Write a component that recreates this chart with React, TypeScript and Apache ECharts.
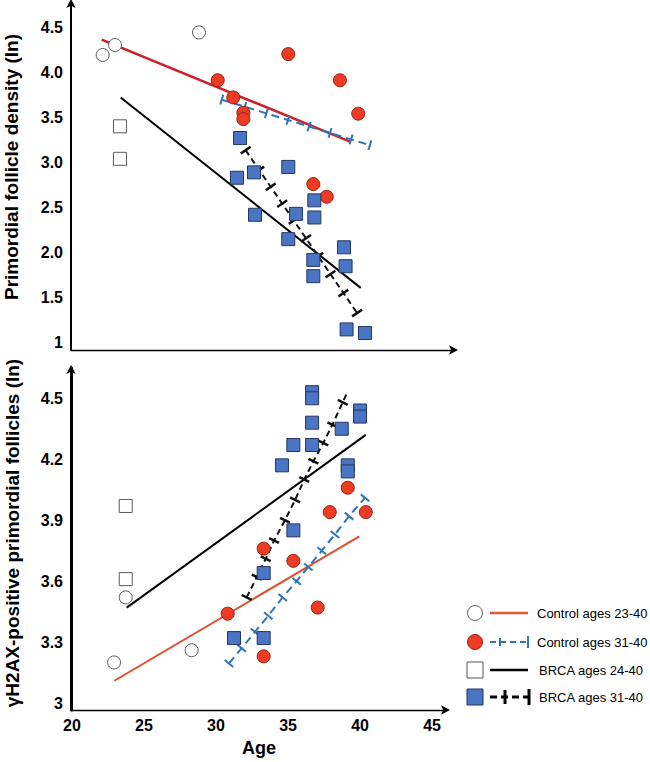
import React, { useEffect, useRef } from 'react';
import * as echarts from 'echarts';

// ---------- tick labels ----------
const xTickValues = [20, 25, 30, 35, 40, 45];
const topYTickValues = [1, 1.5, 2, 2.5, 3, 3.5, 4, 4.5];
const topYTickLabels = ['1', '1.5', '2.0', '2.5', '3.0', '3.5', '4.0', '4.5'];
const botYTickValues = [3, 3.3, 3.6, 3.9, 4.2, 4.5];
const botYTickLabels = ['3', '3.3', '3.6', '3.9', '4.2', '4.5'];

const topYTitle = 'Primordial follicle density (ln)';
const botYTitle = 'γH2AX-positive primordial follicles (ln)';
const xTitle = 'Age';
const legendLabels = ['Control ages 23-40', 'Control ages 31-40', 'BRCA ages 24-40', 'BRCA ages 31-40'];

// ---------- top panel data: [age, ln density] ----------
const topControlOpen = [[22.13, 4.19], [22.99, 4.30], [28.82, 4.44]];
const topControlFilled = [[30.12, 3.91], [31.2, 3.72], [31.9, 3.55], [31.9, 3.48], [35.02, 4.20], [38.61, 3.91], [39.88, 3.54], [36.76, 2.76], [37.69, 2.62]];
const topBrcaOpen = [[23.33, 3.40], [23.33, 3.04]];
const topBrcaFilled = [[31.67, 3.27], [31.46, 2.83], [32.64, 2.89], [32.71, 2.42], [35.02, 2.95], [35.56, 2.43], [35.02, 2.15], [36.83, 2.58], [36.83, 2.39], [36.76, 1.92], [36.76, 1.74], [38.89, 2.06], [39.0, 1.85], [39.07, 1.15], [40.35, 1.11]];
const topControlAllFit = [[22.06, 4.36], [39.31, 3.23]];
const topControl31Fit = [[30.4, 3.695], [32.0, 3.617], [33.5, 3.543], [35.0, 3.47], [36.46, 3.398], [37.92, 3.327], [39.38, 3.255], [40.69, 3.191]];
const topBrcaAllFit = [[23.38, 3.72], [40.05, 1.61]];
const topBrca31Fit = [[32.06, 3.135], [33.0, 2.916], [33.8, 2.73], [34.6, 2.544], [35.4, 2.357], [36.25, 2.159], [37.1, 1.961], [37.95, 1.763], [38.85, 1.553], [39.8, 1.332]];

// ---------- bottom panel data: [age, ln γH2AX+] ----------
const botControlOpen = [[22.92, 3.20], [23.73, 3.52], [28.31, 3.26]];
const botControlFilled = [[30.81, 3.44], [33.31, 3.76], [33.31, 3.23], [35.37, 3.70], [37.06, 3.47], [37.9, 3.94], [39.15, 4.06], [40.40, 3.94]];
const botBrcaOpen = [[23.73, 3.97], [23.73, 3.61]];
const botBrcaFilled = [[31.25, 3.32], [33.31, 3.32], [33.31, 3.64], [35.37, 3.85], [34.58, 4.17], [35.37, 4.27], [36.67, 4.27], [36.67, 4.38], [36.67, 4.53], [36.67, 4.50], [38.73, 4.35], [40.0, 4.44], [40.0, 4.41], [39.15, 4.17], [39.15, 4.14]];
const botControlAllFit = [[22.94, 3.11], [39.95, 3.82]];
const botControl31Fit = [[30.9, 3.195], [31.78, 3.27], [32.71, 3.35], [33.63, 3.43], [34.63, 3.52], [35.6, 3.60], [36.41, 3.67], [37.34, 3.75], [38.26, 3.83], [39.24, 3.92], [40.35, 4.01]];
const botBrcaAllFit = [[23.8, 3.47], [40.4, 4.32]];
const botBrca31Fit = [[32.13, 3.52], [32.83, 3.62], [33.45, 3.71], [34.03, 3.80], [34.79, 3.90], [35.49, 4.00], [36.13, 4.10], [36.76, 4.19], [37.45, 4.28], [38.08, 4.37], [38.8, 4.48], [39.05, 4.52]];

// ---------- layout / style ----------
const FONT = '"Liberation Sans", Arial, Helvetica, sans-serif';
const G0 = { left: 71, top: 2, width: 384, height: 348 };
const G1 = { left: 71, top: 368, width: 376, height: 342 };
const X0 = [19.93, 46.6];
const Y0 = [0.922, 4.777];
const X1 = [19.93, 46.04];
const Y1 = [2.966, 4.649];

const RED_FILL = '#ee3b24';
const RED_EDGE = '#9c2010';
const BLUE_FILL = '#4a74c4';
const BLUE_EDGE = '#25395f';
const DASH_BLUE = '#2e75b6';
const TOP_RED = '#cc1f2a';
const BOT_RED = '#e0502e';

function angleOf(line: number[][], g: any, xr: number[], yr: number[]) {
  const a = line[0];
  const b = line[line.length - 1];
  const dx = ((b[0] - a[0]) * g.width) / (xr[1] - xr[0]);
  const dy = ((b[1] - a[1]) * g.height) / (yr[1] - yr[0]);
  return (Math.atan2(dy, dx) * 180) / Math.PI;
}

function labelFor(values: number[], labels: string[]) {
  return (v: number) => {
    let best = 0;
    for (let i = 0; i < values.length; i++) {
      if (Math.abs(values[i] - v) < Math.abs(values[best] - v)) best = i;
    }
    return Math.abs(values[best] - v) < 1e-6 ? labels[best] : '';
  };
}

function scatter(name: string, data: number[][], idx: number, kind: 'circle' | 'rect', filled: boolean) {
  const fill = filled ? (kind === 'circle' ? RED_FILL : BLUE_FILL) : '#ffffff';
  const edge = filled ? (kind === 'circle' ? RED_EDGE : BLUE_EDGE) : '#5a5a5a';
  return {
    type: 'scatter',
    name,
    xAxisIndex: idx,
    yAxisIndex: idx,
    data,
    symbol: kind,
    symbolSize: 13,
    itemStyle: { color: fill, borderColor: edge, borderWidth: 1, opacity: 1 },
    z: 5,
  };
}

function solidLine(name: string, data: number[][], idx: number, color: string, width: number) {
  return {
    type: 'line',
    name,
    xAxisIndex: idx,
    yAxisIndex: idx,
    data,
    showSymbol: false,
    symbol: 'none',
    lineStyle: { color, width, type: 'solid' },
    z: 3,
  };
}

function tickedLine(
  name: string,
  data: number[][],
  idx: number,
  color: string,
  width: number,
  dash: number[],
  tick: number[],
  rot: number,
  noTickLast = false
) {
  return {
    type: 'line',
    name,
    xAxisIndex: idx,
    yAxisIndex: idx,
    data: data.map((d, i) =>
      noTickLast && i === data.length - 1 ? { value: d, symbol: 'none' } : { value: d }
    ),
    showSymbol: true,
    showAllSymbol: true,
    symbol: 'rect',
    symbolSize: tick,
    symbolRotate: rot,
    itemStyle: { color, borderWidth: 0 },
    lineStyle: { color, width, type: dash },
    z: 4,
  };
}

function yAxisCfg(idx: number, range: number[], values: number[], labels: string[], lw: number) {
  return {
    type: 'value',
    gridIndex: idx,
    min: range[0],
    max: range[1],
    splitLine: { show: false },
    axisTick: { show: false },
    axisLine: {
      show: true,
      onZero: false,
      symbol: ['none', 'arrow'],
      symbolSize: [7, 9],
      symbolOffset: [0, 3],
      lineStyle: { color: '#000', width: lw },
    },
    axisLabel: {
      customValues: values,
      formatter: labelFor(values, labels),
      fontSize: 16,
      fontWeight: 'bold',
      fontFamily: FONT,
      color: '#000',
      margin: 8,
    },
  };
}

function xAxisCfg(idx: number, range: number[], showLabels: boolean) {
  return {
    type: 'value',
    gridIndex: idx,
    min: range[0],
    max: range[1],
    splitLine: { show: false },
    axisTick: { show: false },
    axisLine: {
      show: true,
      onZero: false,
      symbol: ['none', 'arrow'],
      symbolSize: [7, 9],
      symbolOffset: [0, 3],
      lineStyle: { color: '#000', width: 1.3 },
    },
    axisLabel: {
      show: showLabels,
      customValues: xTickValues,
      formatter: labelFor(xTickValues, xTickValues.map(String)),
      fontSize: 16,
      fontWeight: 'bold',
      fontFamily: FONT,
      color: '#000',
      margin: 7,
    },
    name: showLabels ? xTitle : '',
    nameLocation: 'middle',
    nameGap: 29,
    nameTextStyle: { fontSize: 18, fontWeight: 'bold', fontFamily: FONT, color: '#000' },
  };
}

function legendGraphics() {
  const rows = [613, 642, 670, 697];
  const els: any[] = [];
  const cx = 475;
  const lx0 = 490;
  const lx1 = 528;
  // row 1
  els.push({ type: 'circle', shape: { cx, cy: rows[0], r: 7.5 }, style: { fill: '#fff', stroke: '#666', lineWidth: 1 } });
  els.push({ type: 'line', shape: { x1: lx0, y1: rows[0], x2: lx1, y2: rows[0] }, style: { stroke: '#e05a3a', lineWidth: 2.5 } });
  // row 2
  els.push({ type: 'circle', shape: { cx, cy: rows[1], r: 7.5 }, style: { fill: RED_FILL, stroke: RED_EDGE, lineWidth: 1 } });
  els.push({ type: 'line', shape: { x1: lx0, y1: rows[1], x2: lx1, y2: rows[1] }, style: { stroke: DASH_BLUE, lineWidth: 2, lineDash: [6, 4] } });
  els.push({ type: 'line', shape: { x1: 500, y1: rows[1] - 4, x2: 500, y2: rows[1] + 4 }, style: { stroke: DASH_BLUE, lineWidth: 2 } });
  els.push({ type: 'line', shape: { x1: 528, y1: rows[1] - 6, x2: 528, y2: rows[1] + 6 }, style: { stroke: DASH_BLUE, lineWidth: 2 } });
  // row 3
  els.push({ type: 'rect', shape: { x: cx - 8, y: rows[2] - 8, width: 16, height: 16 }, style: { fill: '#fff', stroke: '#555', lineWidth: 1 } });
  els.push({ type: 'line', shape: { x1: lx0, y1: rows[2], x2: lx1, y2: rows[2] }, style: { stroke: '#000', lineWidth: 2.5 } });
  // row 4
  els.push({ type: 'rect', shape: { x: cx - 8, y: rows[3] - 8, width: 16, height: 16 }, style: { fill: BLUE_FILL, stroke: BLUE_EDGE, lineWidth: 1 } });
  els.push({ type: 'line', shape: { x1: lx0, y1: rows[3], x2: lx1, y2: rows[3] }, style: { stroke: '#000', lineWidth: 3, lineDash: [7, 4] } });
  els.push({ type: 'line', shape: { x1: 505, y1: rows[3] - 7, x2: 505, y2: rows[3] + 7 }, style: { stroke: '#000', lineWidth: 3 } });
  els.push({ type: 'line', shape: { x1: 529, y1: rows[3] - 8, x2: 529, y2: rows[3] + 8 }, style: { stroke: '#000', lineWidth: 3 } });
  const tx = [537, 537, 539, 539];
  legendLabels.forEach((t, i) => {
    els.push({
      type: 'text',
      x: tx[i],
      y: rows[i],
      style: {
        text: t,
        font: `13px ${FONT}`,
        fill: '#000',
        textAlign: 'left',
        textVerticalAlign: 'middle',
        align: 'left',
        verticalAlign: 'middle',
      },
    });
  });
  return els;
}

function titleGraphic(text: string, x: number, y: number) {
  return {
    type: 'text',
    x,
    y,
    rotation: Math.PI / 2,
    style: {
      text,
      font: `bold 19px ${FONT}`,
      fill: '#000',
      textAlign: 'center',
      textVerticalAlign: 'middle',
      align: 'center',
      verticalAlign: 'middle',
    },
  };
}

export default function App() {
  const ref = useRef<HTMLDivElement>(null);
  useEffect(() => {
    if (!ref.current) return;
    const chart = echarts.init(ref.current, null, { renderer: 'svg' });
    const aTopC31 = angleOf(topControl31Fit, G0, X0, Y0);
    const aTopB31 = angleOf(topBrca31Fit, G0, X0, Y0);
    const aBotC31 = angleOf(botControl31Fit, G1, X1, Y1);
    const aBotB31 = angleOf(botBrca31Fit, G1, X1, Y1);
    chart.setOption({
      animation: false,
      backgroundColor: '#ffffff',
      textStyle: { fontFamily: FONT },
      grid: [
        { ...G0, containLabel: false },
        { ...G1, containLabel: false },
      ],
      xAxis: [xAxisCfg(0, X0, false), xAxisCfg(1, X1, true)],
      yAxis: [
        yAxisCfg(0, Y0, topYTickValues, topYTickLabels, 2),
        yAxisCfg(1, Y1, botYTickValues, botYTickLabels, 3),
      ],
      series: [
        solidLine(legendLabels[0], topControlAllFit, 0, TOP_RED, 2.5),
        tickedLine(legendLabels[1], topControl31Fit, 0, DASH_BLUE, 2, [8, 5], [2, 10], aTopC31),
        solidLine(legendLabels[2], topBrcaAllFit, 0, '#000', 2),
        tickedLine(legendLabels[3], topBrca31Fit, 0, '#111', 2, [6, 4], [2.5, 12], aTopB31),
        scatter(legendLabels[0], topControlOpen, 0, 'circle', false),
        scatter(legendLabels[1], topControlFilled, 0, 'circle', true),
        scatter(legendLabels[2], topBrcaOpen, 0, 'rect', false),
        scatter(legendLabels[3], topBrcaFilled, 0, 'rect', true),

        solidLine(legendLabels[0], botControlAllFit, 1, BOT_RED, 2),
        tickedLine(legendLabels[1], botControl31Fit, 1, DASH_BLUE, 2, [8, 5], [2, 11], aBotC31),
        solidLine(legendLabels[2], botBrcaAllFit, 1, '#000', 2),
        tickedLine(legendLabels[3], botBrca31Fit, 1, '#111', 2, [6, 4], [2.5, 11], aBotB31, true),
        scatter(legendLabels[0], botControlOpen, 1, 'circle', false),
        scatter(legendLabels[1], botControlFilled, 1, 'circle', true),
        scatter(legendLabels[2], botBrcaOpen, 1, 'rect', false),
        scatter(legendLabels[3], botBrcaFilled, 1, 'rect', true),
      ],
      graphic: [
        titleGraphic(topYTitle, 11, 167),
        titleGraphic(botYTitle, 12, 533),
        ...legendGraphics(),
      ],
    });
    return () => chart.dispose();
  }, []);
  return (
    <div
      ref={ref}
      style={{ position: 'absolute', left: 0, top: 0, width: 650, height: 762, background: '#fff' }}
    />
  );
}
